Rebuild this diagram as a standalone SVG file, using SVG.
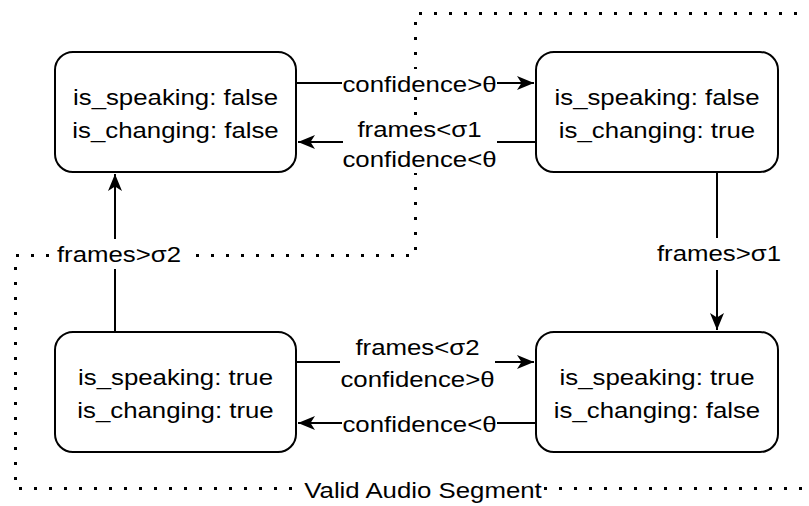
<svg xmlns="http://www.w3.org/2000/svg" width="809" height="506" viewBox="0 0 809 506">
  <defs>
    <marker id="arrow" markerUnits="userSpaceOnUse" markerWidth="20" markerHeight="16" viewBox="-18 -8 20 16" refX="0" refY="0" orient="auto">
      <path d="M0,0 L-17,-7 L-12.5,0 L-17,7 Z" fill="#000"/>
    </marker>
  </defs>
  <style>
    .state { fill: #fff; stroke: #000; stroke-width: 2; }
    .t { font-family: "Liberation Sans", Arial, sans-serif; font-size: 21.5px; fill: #000; text-anchor: middle; }
    .edge { fill: none; stroke: #000; stroke-width: 2; }
    .bg { fill: #fff; }
    .zone { fill: none; stroke: #000; stroke-width: 3; stroke-dasharray: 3 12; }
  </style>

  <rect width="809" height="506" fill="#fff"/>

  <!-- dotted region boundary -->
  <g id="segment-zone">
    <path class="zone" d="M812,13.5 L415.5,13.5 L415.5,255.5 L15.5,255.5 L15.5,488.5 L812,488.5"/>
  </g>

  <!-- transitions -->
  <g id="connectors">
    <path class="edge" d="M296,83 L534,83" marker-end="url(#arrow)"/>
    <path class="edge" d="M536,142 L298,142" marker-end="url(#arrow)"/>
    <path class="edge" d="M717,172 L717,330" marker-end="url(#arrow)"/>
    <path class="edge" d="M296,362 L534,362" marker-end="url(#arrow)"/>
    <path class="edge" d="M536,423 L298,423" marker-end="url(#arrow)"/>
    <path class="edge" d="M115,332 L115,174" marker-end="url(#arrow)"/>
  </g>

  <!-- transition labels -->
  <g id="labels">
    <rect class="bg" x="342" y="69" width="155" height="28"/>
    <text class="t" transform="translate(419.5 91.5) scale(1.2 1)">confidence&gt;θ</text>

    <rect class="bg" x="343" y="116" width="154" height="57"/>
    <text class="t" transform="translate(419.5 136.5) scale(1.2 1)">frames&lt;σ1</text>
    <text class="t" transform="translate(419.5 167) scale(1.2 1)">confidence&lt;θ</text>

    <rect class="bg" x="656" y="238" width="126" height="32"/>
    <text class="t" transform="translate(719 261) scale(1.2 1)">frames&gt;σ1</text>

    <rect class="bg" x="55" y="239" width="131" height="30"/>
    <text class="t" transform="translate(119 261.5) scale(1.2 1)">frames&gt;σ2</text>

    <rect class="bg" x="340" y="335" width="155" height="57"/>
    <text class="t" transform="translate(417.5 354.5) scale(1.2 1)">frames&lt;σ2</text>
    <text class="t" transform="translate(417.5 386.5) scale(1.2 1)">confidence&gt;θ</text>

    <rect class="bg" x="342" y="410" width="155" height="28"/>
    <text class="t" transform="translate(419.5 432) scale(1.2 1)">confidence&lt;θ</text>

    <rect class="bg" x="303" y="476" width="240" height="26"/>
    <text class="t" transform="translate(423 498) scale(1.2 1)">Valid Audio Segment</text>
  </g>

  <!-- states -->
  <g id="state-idle">
    <rect class="state" x="55" y="52" width="241" height="120" rx="18" ry="18"/>
    <text class="t" transform="translate(175.5 104.5) scale(1.2 1)">is_speaking: false</text>
    <text class="t" transform="translate(175.5 137.5) scale(1.2 1)">is_changing: false</text>
  </g>
  <g id="state-starting">
    <rect class="state" x="536" y="52" width="242" height="120" rx="18" ry="18"/>
    <text class="t" transform="translate(657 104.5) scale(1.2 1)">is_speaking: false</text>
    <text class="t" transform="translate(657 137.5) scale(1.2 1)">is_changing: true</text>
  </g>
  <g id="state-ending">
    <rect class="state" x="55" y="332" width="241" height="120" rx="18" ry="18"/>
    <text class="t" transform="translate(175.5 384.5) scale(1.2 1)">is_speaking: true</text>
    <text class="t" transform="translate(175.5 417.5) scale(1.2 1)">is_changing: true</text>
  </g>
  <g id="state-speaking">
    <rect class="state" x="536" y="332" width="242" height="120" rx="18" ry="18"/>
    <text class="t" transform="translate(657 384.5) scale(1.2 1)">is_speaking: true</text>
    <text class="t" transform="translate(657 417.5) scale(1.2 1)">is_changing: false</text>
  </g>
</svg>
